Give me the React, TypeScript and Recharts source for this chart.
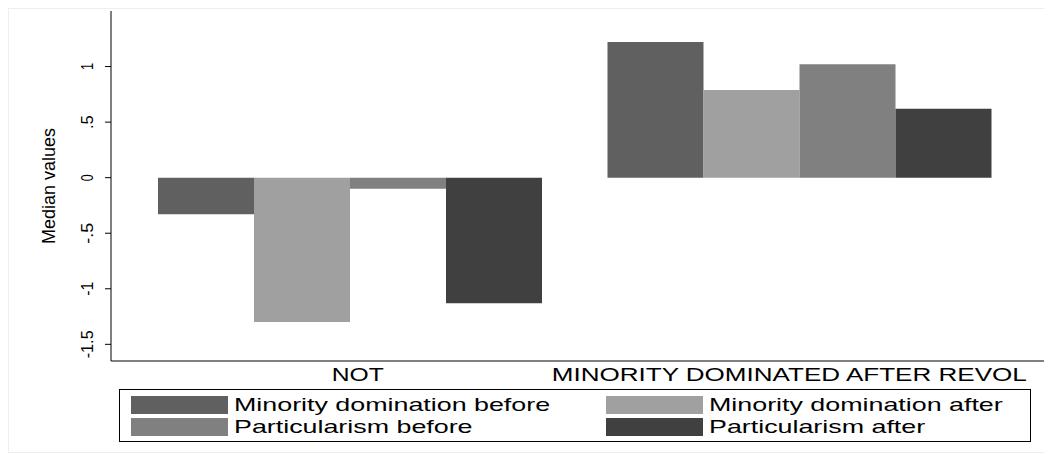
import { BarChart, Bar, XAxis, YAxis, Label } from "recharts";

const categories = ["NOT", "MINORITY DOMINATED AFTER REVOL"];
const minDomBefore = [-0.33, 1.22];
const minDomAfter = [-1.3, 0.79];
const partBefore = [-0.1, 1.02];
const partAfter = [-1.13, 0.62];
const yTicks = [-1.5, -1, -0.5, 0, 0.5, 1];

const series = [
  { key: "mdb", name: "Minority domination before", color: "#606060" },
  { key: "mda", name: "Minority domination after", color: "#a0a0a0" },
  { key: "pb", name: "Particularism before", color: "#808080" },
  { key: "pa", name: "Particularism after", color: "#404040" },
];

const data = categories.map((c, i) => ({
  name: c,
  mdb: minDomBefore[i],
  mda: minDomAfter[i],
  pb: partBefore[i],
  pa: partAfter[i],
}));

const fmt = (v: number) => (v === 0 ? "0" : String(v).replace("0.", "."));

const YTick = (props: any) => {
  const { x, y, payload } = props;
  const s = fmt(payload.value);
  return (
    <text x={x - 10} y={y} transform={`rotate(-90 ${x - 10} ${y})`} textAnchor="middle" fontSize={17} fill="#000" textLength={s.length * 7} lengthAdjust="spacingAndGlyphs">
      {s}
    </text>
  );
};

const XTick = (props: any) => {
  const { x, y, payload } = props;
  const v = payload.value as string;
  const len = v === "NOT" ? 52 : 475;
  const cx = v === "NOT" ? x + 7 : x - 11;
  return (
    <text x={cx} y={y + 12} textAnchor="middle" fontSize={19} fill="#000" textLength={len} lengthAdjust="spacingAndGlyphs">
      {v}
    </text>
  );
};

export default function App() {
  return (
    <div style={{ fontFamily: "Liberation Sans, Arial, sans-serif", width: 1044, border: "1px solid #eee", boxSizing: "border-box" }}>
      <BarChart width={1040} height={385} data={data} margin={{ top: 2, right: 5, left: 42, bottom: 13 }} barGap={0} barCategoryGap={32}>
        <YAxis
          type="number"
          domain={[-1.65, 1.5]}
          ticks={yTicks}
          tick={<YTick />}
          tickSize={6}
          width={60}
          stroke="#000"
        >
          <Label value="Median values" angle={-90} position="insideLeft" offset={0} style={{ fontSize: 18, fill: "#000", textAnchor: "middle" }} dx={-2} />
        </YAxis>
        <XAxis dataKey="name" stroke="#000" tickLine={false} axisLine={{ stroke: "#000" }} height={20} tick={<XTick />} interval={0} padding={{ left: 15, right: 19 }} />
        {series.map((s) => (
          <Bar key={s.key} dataKey={s.key} name={s.name} fill={s.color} isAnimationActive={false} />
        ))}
      </BarChart>
      <div style={{ margin: "-5px 0 10px 110px", border: "1px solid #000", padding: "5px 11px", display: "grid", gridTemplateColumns: "475px 1fr", rowGap: 3, width: 912, boxSizing: "border-box" }}>
        {series.map((s) => (
          <div key={s.key} style={{ display: "flex", alignItems: "center", fontSize: 18.5, height: 19, whiteSpace: "nowrap" }}>
            <span style={{ width: 97, height: 18, background: s.color, display: "inline-block", marginRight: 6, flex: "none" }} />
            <span style={{ display: "inline-block", transform: "scaleX(1.45)", transformOrigin: "left center" }}>{s.name}</span>
          </div>
        ))}
      </div>
    </div>
  );
}
